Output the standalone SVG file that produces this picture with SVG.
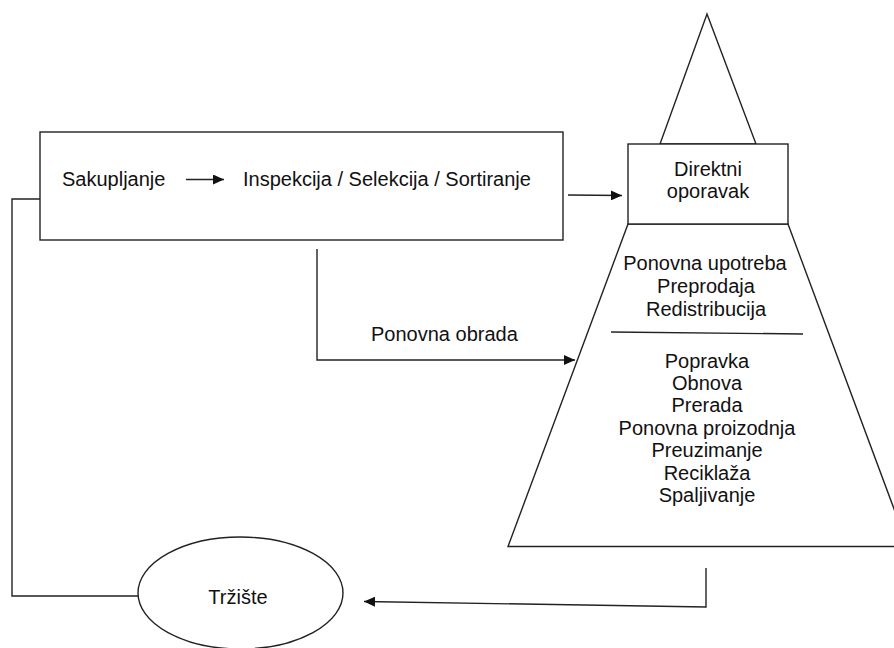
<svg xmlns="http://www.w3.org/2000/svg" width="894" height="648" viewBox="0 0 894 648">
  <defs>
    <marker id="arrow" viewBox="0 0 11 10" refX="11" refY="5" markerWidth="11" markerHeight="10" markerUnits="userSpaceOnUse" orient="auto">
      <path d="M0,0 L11,5 L0,10 z" fill="#111"/>
    </marker>
    <style>
      .shape { fill: #fff; stroke: #222; stroke-width: 1.4; }
      .line { fill: none; stroke: #222; stroke-width: 1.4; }
      .arrow { fill: none; stroke: #222; stroke-width: 1.4; marker-end: url(#arrow); }
      text { font-family: "Liberation Sans", Arial, sans-serif; font-size: 20px; fill: #111; }
      .c { text-anchor: middle; }
    </style>
  </defs>
  <rect width="894" height="648" fill="#fff"/>

  <!-- collection / inspection process box -->
  <g id="process">
    <rect class="shape" x="40" y="132" width="523" height="108"/>
    <text x="62" y="186">Sakupljanje</text>
    <line class="arrow" x1="186" y1="179.5" x2="224" y2="179.5"/>
    <text x="243" y="186">Inspekcija / Selekcija / Sortiranje</text>
  </g>

  <!-- pyramid of recovery options -->
  <g id="pyramid-top">
    <polygon class="shape" points="707,14 756,144 660,144"/>
  </g>
  <g id="pyramid-base">
    <polygon class="shape" points="628,224 788,224 908,546.5 508,546.5"/>
    <text class="c" x="705" y="270">Ponovna upotreba</text>
    <text class="c" x="706" y="292.5">Preprodaja</text>
    <text class="c" x="706" y="315.5">Redistribucija</text>
    <line class="line" x1="611" y1="332" x2="803" y2="334"/>
    <text class="c" x="707" y="367.5">Popravka</text>
    <text class="c" x="707" y="389.9">Obnova</text>
    <text class="c" x="707" y="412.3">Prerada</text>
    <text class="c" x="707" y="434.7">Ponovna proizodnja</text>
    <text class="c" x="707" y="457.1">Preuzimanje</text>
    <text class="c" x="707" y="479.5">Reciklaža</text>
    <text class="c" x="707" y="501.9">Spaljivanje</text>
  </g>
  <g id="direct-recovery">
    <rect class="shape" x="628" y="144" width="160" height="80"/>
    <text class="c" x="708" y="176">Direktni</text>
    <text class="c" x="708" y="198">oporavak</text>
  </g>

  <!-- market -->
  <g id="market">
    <ellipse class="shape" cx="240.5" cy="593" rx="102.5" ry="56"/>
    <text class="c" x="238" y="604">Tržište</text>
  </g>

  <!-- flows between stages -->
  <g id="connectors">
    <line class="arrow" x1="568" y1="195" x2="622" y2="195.5"/>
    <polyline class="arrow" points="317,249 317,360 575,360"/>
    <text x="371" y="341">Ponovna obrada</text>
    <polyline class="arrow" points="706,568 706,607 364,601.5"/>
    <polyline class="line" points="40,199 12,199 12,596 138,596"/>
  </g>
</svg>
